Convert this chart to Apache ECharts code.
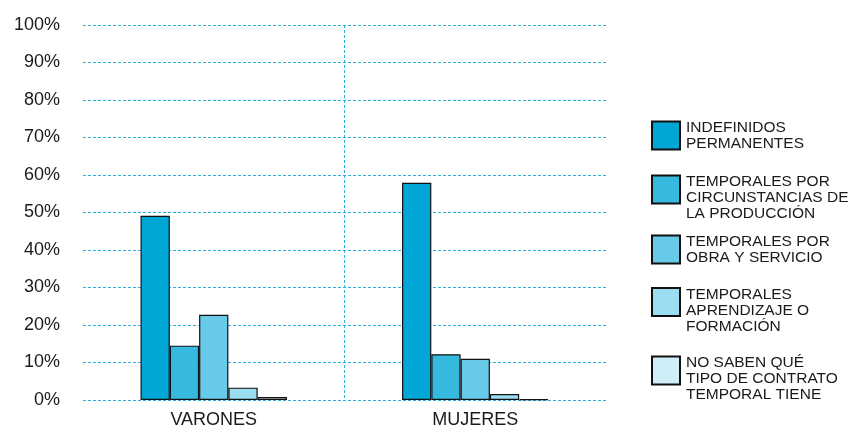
<!DOCTYPE html>
<html>
<head>
<meta charset="utf-8">
<script src="https://cdn.jsdelivr.net/npm/echarts@6/dist/echarts.min.js"></script>
<style>html,body{margin:0;padding:0;background:#fff}#c{width:850px;height:430px}</style>
</head>
<body>
<div id="c"></div>
<script>
const categories = ['VARONES', 'MUJERES'];
const seriesNames = [
  'INDEFINIDOS\nPERMANENTES',
  'TEMPORALES POR\nCIRCUNSTANCIAS DE\nLA PRODUCCIÓN',
  'TEMPORALES POR\nOBRA Y SERVICIO',
  'TEMPORALES\nAPRENDIZAJE O\nFORMACIÓN',
  'NO SABEN QUÉ\nTIPO DE CONTRATO\nTEMPORAL TIENE'
];
const indefinidos = [49.1, 57.9];
const circunstancias = [14.5, 12.2];
const obraServicio = [22.7, 11.0];
const aprendizaje = [3.3, 1.6];
const noSaben = [0.8, 0.2];
const yTicks = [0, 10, 20, 30, 40, 50, 60, 70, 80, 90, 100];
const colors = ['#00A6D6', '#36B9DF', '#67CAE8', '#9BDDF1', '#CFEEF8'];

const values = [indefinidos, circunstancias, obraServicio, aprendizaje, noSaben];
const iconTops = [121.5, 175.5, 235.5, 288, 356.5];
const LH = 16, ICON = 28;

const chart = echarts.init(document.getElementById('c'));
const font = 'Liberation Sans, Arial, Helvetica, sans-serif';

const legends = seriesNames.map((n, i) => {
  const lines = n.split('\n').length;
  const pL = LH * lines - ICON - 3;
  const H = pL + LH * lines;
  return {
    data: [n],
    left: 651,
    top: iconTops[i] - (H / 2 - ICON / 2) + (lines === 3 ? 8 : 0),
    padding: 0,
    itemWidth: ICON,
    itemHeight: ICON,
    itemGap: 0,
    icon: 'rect',
    selectedMode: false,
    formatter: name => '{p| }\n{t|' + name + '}',
    textStyle: {
      fontFamily: font,
      fontSize: 15.5,
      color: '#1a1a1a',
      rich: {
        p: { fontSize: 1, lineHeight: pL },
        t: { fontFamily: font, fontSize: 15.5, lineHeight: LH, color: '#1a1a1a', padding: [0, 0, 0, 1] }
      }
    }
  };
});

chart.setOption({
  animation: false,
  color: colors,
  grid: { left: 83, right: 244, top: 25, bottom: 30, containLabel: false },
  legend: legends,
  xAxis: {
    type: 'category',
    data: categories,
    axisLine: { show: false },
    axisTick: { show: false },
    axisLabel: { fontFamily: font, fontSize: 18, color: '#1a1a1a', margin: 11 },
    splitLine: {
      show: true,
      showMinLine: false,
      showMaxLine: false,
      lineStyle: { color: '#2BB0DE', type: [3, 2], width: 1 }
    }
  },
  yAxis: {
    type: 'value',
    min: 0,
    max: 100,
    interval: 10,
    axisLine: { show: false },
    axisTick: { show: false },
    axisLabel: {
      fontFamily: font, fontSize: 18, color: '#1a1a1a', margin: 23,
      formatter: v => yTicks.includes(v) ? v + '%' : ''
    },
    splitLine: { lineStyle: { color: '#2BB0DE', type: [3, 2], width: 1 } }
  },
  series: seriesNames.map((n, i) => ({
    name: n,
    type: 'bar',
    data: values[i],
    barGap: '0%',
    barCategoryGap: '44%',
    itemStyle: { color: colors[i], borderColor: '#111', borderWidth: 1.2 }
  }))
});
</script>
</body>
</html>
